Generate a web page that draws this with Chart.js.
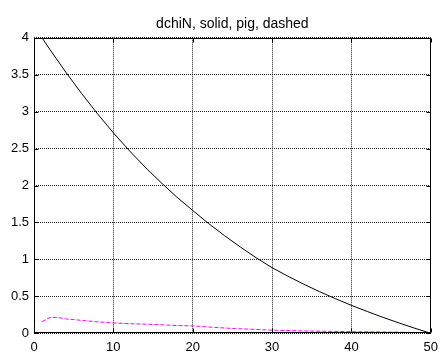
<!DOCTYPE html>
<html>
<head>
<meta charset="utf-8">
<script src="https://cdn.jsdelivr.net/npm/chart.js@4"></script>
<style>
  html, body { margin: 0; padding: 0; background: #fff; }
  #wrap { width: 444px; height: 352px; }
</style>
</head>
<body>
<div id="wrap"><canvas id="c" width="444" height="352"></canvas></div>
<script>
const titleText = 'dchiN, solid, pig, dashed';
const xTicks = [0, 10, 20, 30, 40, 50];
const yTicks = [0, 0.5, 1, 1.5, 2, 2.5, 3, 3.5, 4];

const xDchiN = [1, 2, 4, 6, 8, 10, 12, 14, 16, 18, 20, 22, 24, 26, 28, 30, 32, 34, 36, 38, 40, 42, 44, 46, 48, 50];
const yDchiN = [4.0, 3.841, 3.535, 3.245, 2.971, 2.713, 2.473, 2.249, 2.041, 1.843, 1.662, 1.486, 1.322, 1.168, 1.022, 0.888, 0.772, 0.664, 0.563, 0.468, 0.378, 0.295, 0.215, 0.14, 0.068, 0];

const xPig = [1, 2, 3, 4, 5, 6, 8, 10, 12, 15, 18, 20, 22, 25, 28, 30, 35, 40, 45, 50];
const yPig = [0.155, 0.215, 0.215, 0.195, 0.185, 0.175, 0.155, 0.14, 0.13, 0.12, 0.105, 0.1, 0.085, 0.065, 0.052, 0.042, 0.03, 0.022, 0.016, 0.008];

const toPts = (xs, ys) => xs.map((x, i) => ({ x: x, y: ys[i] }));
const FONT = 'Liberation Sans, Arial, Helvetica, sans-serif';

const framePlugin = {
  id: 'frame',
  afterDraw(chart) {
    const { ctx, chartArea: a, scales } = chart;
    ctx.save();
    ctx.setLineDash([]);
    ctx.strokeStyle = '#000';
    ctx.lineWidth = 1;
    const L = Math.round(a.left) + 0.5, R = Math.round(a.right) - 0.5;
    const T = Math.round(a.top) + 0.5, B = Math.round(a.bottom) - 0.5;
    ctx.beginPath();
    ctx.rect(L, T, R - L, B - T);
    ctx.stroke();
    const tl = 4;
    ctx.beginPath();
    xTicks.forEach(v => {
      const px = Math.round(scales.x.getPixelForValue(v)) + 0.5;
      ctx.moveTo(px, B); ctx.lineTo(px, B - tl);
      ctx.moveTo(px, T); ctx.lineTo(px, T + tl);
    });
    yTicks.forEach(v => {
      const py = Math.round(scales.y.getPixelForValue(v)) + 0.5;
      ctx.moveTo(L, py); ctx.lineTo(L + tl, py);
      ctx.moveTo(R, py); ctx.lineTo(R - tl, py);
    });
    ctx.stroke();
    ctx.restore();
  }
};

new Chart(document.getElementById('c'), {
  type: 'line',
  data: {
    datasets: [
      {
        label: 'pig',
        data: toPts(xPig, yPig),
        borderColor: '#ff00ff',
        borderWidth: 1,
        borderDash: [4, 2],
        pointRadius: 0,
        tension: 0,
        fill: false
      },
      {
        label: 'dchiN',
        data: toPts(xDchiN, yDchiN),
        borderColor: '#000000',
        borderWidth: 1,
        pointRadius: 0,
        tension: 0,
        fill: false
      }
    ]
  },
  options: {
    responsive: false,
    animation: false,
    devicePixelRatio: 1,
    layout: { padding: { left: 0, right: 10.5, top: 0, bottom: 0 } },
    plugins: {
      legend: { display: false },
      tooltip: { enabled: false },
      title: {
        display: true,
        text: titleText,
        fullSize: false,
        color: '#000',
        font: { family: FONT, size: 14, weight: 'normal', lineHeight: 1.2 },
        padding: { top: 15.6, bottom: 5.3 }
      }
    },
    scales: {
      x: {
        type: 'linear',
        min: 0, max: 50,
        afterBuildTicks: s => { s.ticks = xTicks.map(v => ({ value: v })); },
        afterFit: s => { s.height = 18.7; },
        ticks: { color: '#000', font: { family: FONT, size: 13 }, padding: 6, maxRotation: 0, autoSkip: false,
                 callback: v => String(v) },
        grid: { color: '#222', lineWidth: 1, drawTicks: false },
        border: { display: false, dash: [1, 1] }
      },
      y: {
        type: 'linear',
        min: 0, max: 4,
        afterBuildTicks: s => { s.ticks = yTicks.map(v => ({ value: v })); },
        afterFit: s => { s.width = 34; },
        ticks: { color: '#000', font: { family: FONT, size: 13 }, padding: 5, autoSkip: false,
                 callback: v => String(v) },
        grid: { color: '#222', lineWidth: 1, drawTicks: false },
        border: { display: false, dash: [1, 1] }
      }
    }
  },
  plugins: [framePlugin]
});
</script>
</body>
</html>
